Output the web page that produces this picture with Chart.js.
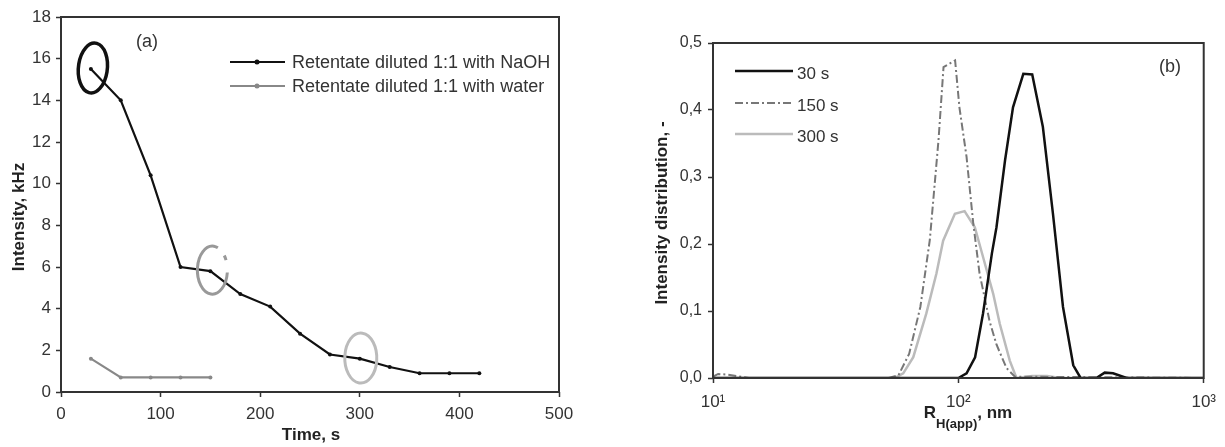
<!DOCTYPE html>
<html>
<head>
<meta charset="utf-8">
<title>Intensity vs time / size distribution</title>
<script src="https://cdn.jsdelivr.net/npm/chart.js@4.4.1/dist/chart.umd.min.js"></script>
<style>
  html, body { margin: 0; padding: 0; background: #fff; }
  #wrap { position: relative; width: 1225px; height: 447px; overflow: hidden; }
  #chartA { position: absolute; left: 0; top: 0; }
  #chartB { position: absolute; left: 600px; top: 0; }
</style>
</head>
<body>
<div id="wrap">
  <canvas id="chartA" width="600" height="447"></canvas>
  <canvas id="chartB" width="625" height="447"></canvas>
</div>
<script>
// --- panel (a): intensity vs time ---
const naohTime = [30, 60, 90, 120, 150, 180, 210, 240, 270, 300, 330, 360, 390, 420];
const naohKHz = [15.5, 14.0, 10.4, 6.0, 5.8, 4.7, 4.1, 2.8, 1.8, 1.6, 1.2, 0.9, 0.9, 0.9];
const waterTime = [30, 60, 90, 120, 150];
const waterKHz = [1.6, 0.7, 0.7, 0.7, 0.7];
const timeTicks = [0, 100, 200, 300, 400, 500];
const kHzTicks = [0, 2, 4, 6, 8, 10, 12, 14, 16, 18];
// circled points
const circleTime = [32, 152, 301];
const circleKHz = [15.55, 5.85, 1.63];

// --- panel (b): intensity distribution vs apparent radius ---
const size30 = [10, 60, 100, 108, 117, 126, 137, 143, 155, 167, 184, 200, 221, 243, 267, 294, 315, 365, 395, 427, 485, 1000];
const dist30 = [0, 0, 0, 0.007, 0.031, 0.096, 0.186, 0.225, 0.325, 0.404, 0.454, 0.453, 0.375, 0.245, 0.106, 0.019, 0, 0, 0.008, 0.007, 0, 0];
const size150 = [10, 10.5, 11.5, 12.5, 14, 52, 57, 63, 70, 76.5, 83, 87, 97, 101, 108, 115, 122, 134, 143, 157, 170, 1000];
const dist150 = [0.002, 0.006, 0.005, 0.003, 0, 0, 0.004, 0.036, 0.106, 0.206, 0.355, 0.464, 0.474, 0.404, 0.33, 0.231, 0.156, 0.085, 0.05, 0.015, 0.002, 0];
const size300 = [10, 55, 59.6, 65.5, 74, 81.4, 86.7, 96.8, 106, 116.7, 126, 138.6, 147.5, 162, 172.5, 200, 230, 260, 1000];
const dist300 = [0, 0, 0.007, 0.031, 0.096, 0.156, 0.205, 0.245, 0.249, 0.225, 0.181, 0.126, 0.081, 0.026, 0, 0.003, 0.003, 0, 0];
const radiusTicks = [10, 100, 1000];
const radiusTickLabels = ['10\u00b9', '10\u00b2', '10\u00b3'];
const distTicks = [0, 0.1, 0.2, 0.3, 0.4, 0.5];
const distTickLabels = ['0,0', '0,1', '0,2', '0,3', '0,4', '0,5'];

Chart.defaults.font.family = '"Liberation Sans", Arial, sans-serif';
Chart.defaults.color = '#333';

const toPoints = (xs, ys) => xs.map((v, i) => ({ x: v, y: ys[i] }));

// box round the plot area
const frame = {
    id: 'frame',
    afterDatasetsDraw(chart) {
        const { ctx, chartArea: a } = chart;
        ctx.save();
        ctx.strokeStyle = '#333';
        ctx.lineWidth = 2;
        ctx.strokeRect(a.left, a.top, a.right - a.left, a.bottom - a.top);
        ctx.restore();
    }
};

function axisOpts(ticks, labels, size, pad, fit) {
    return {
        afterBuildTicks: s => { s.ticks = ticks.map(v => ({ value: v })); },
        afterFit: fit,
        ticks: {
            font: { size: size },
            color: '#333',
            padding: pad,
            autoSkip: false,
            maxRotation: 0,
            callback: (v, i) => labels ? labels[i] : String(v)
        },
        grid: { drawOnChartArea: false, drawTicks: true, tickLength: 5, tickWidth: 1.5, tickColor: '#333' },
        border: { display: false }
    };
}

// ---------- panel (a) ----------
const extrasA = {
    id: 'extrasA',
    afterDatasetsDraw(chart) {
        const { ctx, scales: { x, y } } = chart;
        const styles = [
            { color: '#111', width: 3.5, dash: [], rx: 14.5, ry: 25, rot: 0.1 },
            { color: '#999', width: 3, dash: [96, 10, 5, 14], rx: 15, ry: 24, rot: 0 },
            { color: '#bbb', width: 3, dash: [], rx: 16, ry: 25, rot: 0 }
        ];
        circleTime.forEach((t, i) => {
            const st = styles[i];
            ctx.save();
            ctx.strokeStyle = st.color;
            ctx.lineWidth = st.width;
            ctx.setLineDash(st.dash);
            ctx.beginPath();
            ctx.ellipse(x.getPixelForValue(t), y.getPixelForValue(circleKHz[i]), st.rx, st.ry, st.rot, 0.1, 0.1 + Math.PI * 2);
            ctx.stroke();
            ctx.restore();
        });
    },
    afterDraw(chart) {
        const ctx = chart.ctx;
        ctx.save();
        // legend
        chart.data.datasets.forEach((ds, i) => {
            const ly = 62 + i * 24;
            ctx.strokeStyle = ds.borderColor;
            ctx.lineWidth = ds.borderWidth;
            ctx.beginPath(); ctx.moveTo(230, ly); ctx.lineTo(285, ly); ctx.stroke();
            ctx.fillStyle = ds.borderColor;
            ctx.beginPath(); ctx.arc(257, ly, 2.5, 0, Math.PI * 2); ctx.fill();
            ctx.fillStyle = '#333';
            ctx.font = '18px "Liberation Sans", Arial';
            ctx.textAlign = 'left';
            ctx.textBaseline = 'middle';
            ctx.fillText(ds.label, 292, ly + 1);
        });
        ctx.font = '18px "Liberation Sans", Arial';
        ctx.textAlign = 'center';
        ctx.fillText('(a)', 147, 42);
        // axis titles
        ctx.fillStyle = '#222';
        ctx.font = 'bold 17px "Liberation Sans", Arial';
        ctx.textBaseline = 'alphabetic';
        ctx.fillText('Time, s', 311, 440);
        ctx.translate(19, 217);
        ctx.rotate(-Math.PI / 2);
        ctx.textBaseline = 'middle';
        ctx.fillText('Intensity, kHz', 0, 0);
        ctx.restore();
    }
};

new Chart(document.getElementById('chartA'), {
    type: 'line',
    data: {
        datasets: [
            {
                label: 'Retentate diluted 1:1 with NaOH',
                data: toPoints(naohTime, naohKHz),
                borderColor: '#111', backgroundColor: '#111',
                borderWidth: 2.2, pointRadius: 2, pointBorderWidth: 0, tension: 0
            },
            {
                label: 'Retentate diluted 1:1 with water',
                data: toPoints(waterTime, waterKHz),
                borderColor: '#888', backgroundColor: '#888',
                borderWidth: 2.2, pointRadius: 2, pointBorderWidth: 0, tension: 0
            }
        ]
    },
    options: {
        responsive: false,
        animation: false,
        devicePixelRatio: 1,
        layout: { padding: { left: 0, top: 17, right: 41, bottom: 0 } },
        plugins: { legend: { display: false }, tooltip: { enabled: false } },
        scales: {
            x: Object.assign({ type: 'linear', min: 0, max: 500 },
                axisOpts(timeTicks, null, 17, 7, s => { s.height = 55; })),
            y: Object.assign({ type: 'linear', min: 0, max: 18 },
                axisOpts(kHzTicks, null, 17, 5, s => { s.width = 61; }))
        }
    },
    plugins: [frame, extrasA]
});

// ---------- panel (b) ----------
const extrasB = {
    id: 'extrasB',
    afterDraw(chart) {
        const ctx = chart.ctx;
        ctx.save();
        chart.data.datasets.forEach((ds, i) => {
            const ly = [71, 103, 134][i];
            ctx.strokeStyle = ds.borderColor;
            ctx.lineWidth = ds.borderWidth;
            ctx.setLineDash(ds.borderDash || []);
            ctx.beginPath(); ctx.moveTo(135, ly); ctx.lineTo(193, ly); ctx.stroke();
            ctx.setLineDash([]);
            ctx.fillStyle = '#333';
            ctx.font = '17px "Liberation Sans", Arial';
            ctx.textAlign = 'left';
            ctx.textBaseline = 'middle';
            ctx.fillText(ds.label, 197, ly + 3);
        });
        ctx.textAlign = 'center';
        ctx.font = '18px "Liberation Sans", Arial';
        ctx.fillText('(b)', 570, 67);
        // x title with subscript
        ctx.fillStyle = '#222';
        ctx.textAlign = 'left';
        ctx.textBaseline = 'alphabetic';
        const big = 'bold 17px "Liberation Sans", Arial';
        const small = 'bold 13px "Liberation Sans", Arial';
        ctx.font = big; const w1 = ctx.measureText('R').width; const w3 = ctx.measureText(', nm').width;
        ctx.font = small; const w2 = ctx.measureText('H(app)').width;
        let tx = 368 - (w1 + w2 + w3) / 2;
        ctx.font = big; ctx.fillText('R', tx, 418); tx += w1;
        ctx.font = small; ctx.fillText('H(app)', tx, 428); tx += w2;
        ctx.font = big; ctx.fillText(', nm', tx, 418);
        // y title
        ctx.textAlign = 'center';
        ctx.textBaseline = 'middle';
        ctx.translate(62, 213);
        ctx.rotate(-Math.PI / 2);
        ctx.fillText('Intensity distribution, -', 0, 0);
        ctx.restore();
    }
};

new Chart(document.getElementById('chartB'), {
    type: 'line',
    data: {
        datasets: [
            {
                label: '30 s',
                data: toPoints(size30, dist30),
                borderColor: '#111', borderWidth: 2.5, pointRadius: 0, tension: 0
            },
            {
                label: '150 s',
                data: toPoints(size150, dist150),
                borderColor: '#777', borderWidth: 2, borderDash: [8, 3, 2, 3], pointRadius: 0, tension: 0
            },
            {
                label: '300 s',
                data: toPoints(size300, dist300),
                borderColor: '#bbb', borderWidth: 2.5, pointRadius: 0, tension: 0
            }
        ]
    },
    options: {
        responsive: false,
        animation: false,
        devicePixelRatio: 1,
        layout: { padding: { left: 44, top: 43, right: 21, bottom: 0 } },
        plugins: { legend: { display: false }, tooltip: { enabled: false } },
        scales: {
            x: Object.assign({ type: 'logarithmic', min: 10, max: 1000 },
                axisOpts(radiusTicks, radiusTickLabels, 17, 9, s => { s.height = 69; })),
            y: Object.assign({ type: 'linear', min: 0, max: 0.5 },
                axisOpts(distTicks, distTickLabels, 16, 6, s => { s.width = 69; }))
        }
    },
    plugins: [frame, extrasB]
});
</script>
</body>
</html>
